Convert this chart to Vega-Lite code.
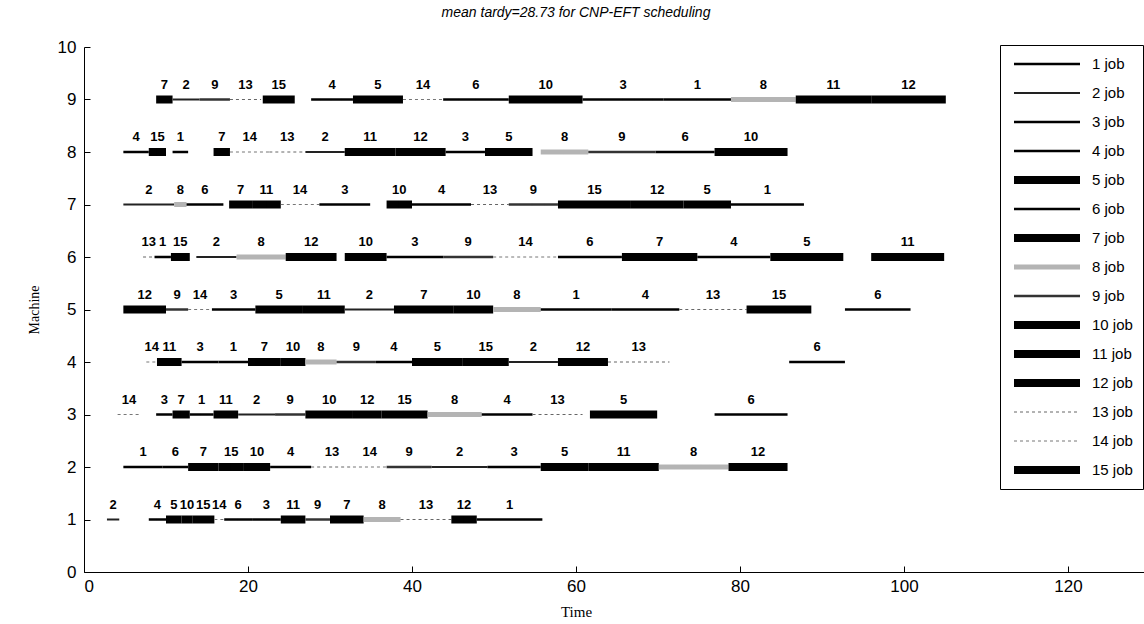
{
  "$schema": "https://vega.github.io/schema/vega-lite/v6.json",
  "width": 1060,
  "height": 525,
  "autosize": {"type": "none"},
  "padding": {"left": 84, "top": 47, "right": 0, "bottom": 52},
  "background": "white",
  "title": {"text": "mean tardy=28.73 for CNP-EFT scheduling", "font": "Liberation Sans", "fontSize": 14, "fontStyle": "italic", "fontWeight": "normal", "anchor": "middle", "dx": -38, "offset": 18, "color": "black"},
  "config": {"view": {"stroke": null}},
  "data": {"values": [
    {"machine": 1, "job": 2, "start": 2.8, "end": 4.3},
    {"machine": 1, "job": 4, "start": 7.9, "end": 10.0},
    {"machine": 1, "job": 5, "start": 10.0, "end": 11.9},
    {"machine": 1, "job": 10, "start": 11.9, "end": 13.2},
    {"machine": 1, "job": 15, "start": 13.2, "end": 15.9},
    {"machine": 1, "job": 14, "start": 15.9, "end": 17.1},
    {"machine": 1, "job": 6, "start": 17.1, "end": 20.5},
    {"machine": 1, "job": 3, "start": 20.5, "end": 24.0},
    {"machine": 1, "job": 11, "start": 24.0, "end": 27.0},
    {"machine": 1, "job": 9, "start": 27.0, "end": 30.0},
    {"machine": 1, "job": 7, "start": 30.0, "end": 34.1},
    {"machine": 1, "job": 8, "start": 34.1, "end": 38.6},
    {"machine": 1, "job": 13, "start": 38.6, "end": 44.8},
    {"machine": 1, "job": 12, "start": 44.8, "end": 47.9},
    {"machine": 1, "job": 1, "start": 47.9, "end": 55.9},
    {"machine": 2, "job": 1, "start": 4.8, "end": 9.6},
    {"machine": 2, "job": 6, "start": 9.6, "end": 12.7},
    {"machine": 2, "job": 7, "start": 12.7, "end": 16.4},
    {"machine": 2, "job": 15, "start": 16.4, "end": 19.5},
    {"machine": 2, "job": 10, "start": 19.5, "end": 22.7},
    {"machine": 2, "job": 4, "start": 22.7, "end": 27.7},
    {"machine": 2, "job": 13, "start": 27.7, "end": 32.8},
    {"machine": 2, "job": 14, "start": 32.8, "end": 36.9},
    {"machine": 2, "job": 9, "start": 36.9, "end": 42.4},
    {"machine": 2, "job": 2, "start": 42.4, "end": 49.2},
    {"machine": 2, "job": 3, "start": 49.2, "end": 55.7},
    {"machine": 2, "job": 5, "start": 55.7, "end": 61.5},
    {"machine": 2, "job": 11, "start": 61.5, "end": 70.1},
    {"machine": 2, "job": 8, "start": 70.1, "end": 78.6},
    {"machine": 2, "job": 12, "start": 78.6, "end": 85.8},
    {"machine": 3, "job": 14, "start": 4.1, "end": 6.9},
    {"machine": 3, "job": 3, "start": 8.8, "end": 10.8},
    {"machine": 3, "job": 7, "start": 10.8, "end": 12.9},
    {"machine": 3, "job": 1, "start": 12.9, "end": 15.8},
    {"machine": 3, "job": 11, "start": 15.8, "end": 18.8},
    {"machine": 3, "job": 2, "start": 18.8, "end": 23.3},
    {"machine": 3, "job": 9, "start": 23.3, "end": 27.0},
    {"machine": 3, "job": 10, "start": 27.0, "end": 32.8},
    {"machine": 3, "job": 12, "start": 32.8, "end": 36.3},
    {"machine": 3, "job": 15, "start": 36.3, "end": 41.9},
    {"machine": 3, "job": 8, "start": 41.9, "end": 48.5},
    {"machine": 3, "job": 4, "start": 48.5, "end": 54.7},
    {"machine": 3, "job": 13, "start": 54.7, "end": 60.8},
    {"machine": 3, "job": 5, "start": 61.7, "end": 69.9},
    {"machine": 3, "job": 6, "start": 76.9, "end": 85.8},
    {"machine": 4, "job": 14, "start": 7.6, "end": 8.9},
    {"machine": 4, "job": 11, "start": 8.9, "end": 11.9},
    {"machine": 4, "job": 3, "start": 11.9, "end": 16.4},
    {"machine": 4, "job": 1, "start": 16.4, "end": 20.0},
    {"machine": 4, "job": 7, "start": 20.0, "end": 24.0},
    {"machine": 4, "job": 10, "start": 24.0, "end": 27.0},
    {"machine": 4, "job": 8, "start": 27.0, "end": 30.8},
    {"machine": 4, "job": 9, "start": 30.8, "end": 35.6},
    {"machine": 4, "job": 4, "start": 35.6, "end": 40.0},
    {"machine": 4, "job": 5, "start": 40.0, "end": 46.2},
    {"machine": 4, "job": 15, "start": 46.2, "end": 51.8},
    {"machine": 4, "job": 2, "start": 51.8, "end": 57.8},
    {"machine": 4, "job": 12, "start": 57.8, "end": 63.9},
    {"machine": 4, "job": 13, "start": 63.9, "end": 71.4},
    {"machine": 4, "job": 6, "start": 86.0, "end": 92.8},
    {"machine": 5, "job": 12, "start": 4.8, "end": 10.0},
    {"machine": 5, "job": 9, "start": 10.0, "end": 12.7},
    {"machine": 5, "job": 14, "start": 12.7, "end": 15.6},
    {"machine": 5, "job": 3, "start": 15.6, "end": 20.9},
    {"machine": 5, "job": 5, "start": 20.9, "end": 26.7},
    {"machine": 5, "job": 11, "start": 26.7, "end": 31.8},
    {"machine": 5, "job": 2, "start": 31.8, "end": 37.8},
    {"machine": 5, "job": 7, "start": 37.8, "end": 45.1},
    {"machine": 5, "job": 10, "start": 45.1, "end": 49.9},
    {"machine": 5, "job": 8, "start": 49.9, "end": 55.7},
    {"machine": 5, "job": 1, "start": 55.7, "end": 64.3},
    {"machine": 5, "job": 4, "start": 64.3, "end": 72.6},
    {"machine": 5, "job": 13, "start": 72.6, "end": 80.8},
    {"machine": 5, "job": 15, "start": 80.8, "end": 88.7},
    {"machine": 5, "job": 6, "start": 92.8, "end": 100.8},
    {"machine": 6, "job": 13, "start": 7.2, "end": 8.6},
    {"machine": 6, "job": 1, "start": 8.6, "end": 10.6},
    {"machine": 6, "job": 15, "start": 10.6, "end": 12.9},
    {"machine": 6, "job": 2, "start": 13.7, "end": 18.6},
    {"machine": 6, "job": 8, "start": 18.6, "end": 24.6},
    {"machine": 6, "job": 12, "start": 24.6, "end": 30.8},
    {"machine": 6, "job": 10, "start": 31.8, "end": 36.9},
    {"machine": 6, "job": 3, "start": 36.9, "end": 43.8},
    {"machine": 6, "job": 9, "start": 43.8, "end": 49.9},
    {"machine": 6, "job": 14, "start": 49.9, "end": 57.8},
    {"machine": 6, "job": 6, "start": 57.8, "end": 65.6},
    {"machine": 6, "job": 7, "start": 65.6, "end": 74.8},
    {"machine": 6, "job": 4, "start": 74.8, "end": 83.7},
    {"machine": 6, "job": 5, "start": 83.7, "end": 92.6},
    {"machine": 6, "job": 11, "start": 96.0, "end": 104.9},
    {"machine": 7, "job": 2, "start": 4.8, "end": 11.0},
    {"machine": 7, "job": 8, "start": 11.0, "end": 12.5},
    {"machine": 7, "job": 6, "start": 12.5, "end": 17.0},
    {"machine": 7, "job": 7, "start": 17.7, "end": 20.5},
    {"machine": 7, "job": 11, "start": 20.5, "end": 24.0},
    {"machine": 7, "job": 14, "start": 24.0, "end": 28.7},
    {"machine": 7, "job": 3, "start": 28.7, "end": 34.9},
    {"machine": 7, "job": 10, "start": 36.9, "end": 40.0},
    {"machine": 7, "job": 4, "start": 40.0, "end": 47.2},
    {"machine": 7, "job": 13, "start": 47.2, "end": 51.8},
    {"machine": 7, "job": 9, "start": 51.8, "end": 57.8},
    {"machine": 7, "job": 15, "start": 57.8, "end": 66.7},
    {"machine": 7, "job": 12, "start": 66.7, "end": 73.1},
    {"machine": 7, "job": 5, "start": 73.1, "end": 78.9},
    {"machine": 7, "job": 1, "start": 78.9, "end": 87.8},
    {"machine": 8, "job": 4, "start": 4.8, "end": 7.9},
    {"machine": 8, "job": 15, "start": 7.9, "end": 10.0},
    {"machine": 8, "job": 1, "start": 10.8, "end": 12.7},
    {"machine": 8, "job": 7, "start": 15.8, "end": 17.8},
    {"machine": 8, "job": 14, "start": 17.8, "end": 22.6},
    {"machine": 8, "job": 13, "start": 22.6, "end": 27.0},
    {"machine": 8, "job": 2, "start": 27.0, "end": 31.8},
    {"machine": 8, "job": 11, "start": 31.8, "end": 38.0},
    {"machine": 8, "job": 12, "start": 38.0, "end": 44.1},
    {"machine": 8, "job": 3, "start": 44.1, "end": 48.9},
    {"machine": 8, "job": 5, "start": 48.9, "end": 54.7},
    {"machine": 8, "job": 8, "start": 55.7, "end": 61.5},
    {"machine": 8, "job": 9, "start": 61.5, "end": 69.7},
    {"machine": 8, "job": 6, "start": 69.7, "end": 76.9},
    {"machine": 8, "job": 10, "start": 76.9, "end": 85.8},
    {"machine": 9, "job": 7, "start": 8.8, "end": 10.8},
    {"machine": 9, "job": 2, "start": 10.8, "end": 14.1},
    {"machine": 9, "job": 9, "start": 14.1, "end": 17.8},
    {"machine": 9, "job": 13, "start": 17.8, "end": 21.6},
    {"machine": 9, "job": 15, "start": 21.8, "end": 25.7},
    {"machine": 9, "job": 4, "start": 27.7, "end": 32.8},
    {"machine": 9, "job": 5, "start": 32.8, "end": 38.9},
    {"machine": 9, "job": 14, "start": 38.9, "end": 43.8},
    {"machine": 9, "job": 6, "start": 43.8, "end": 51.8},
    {"machine": 9, "job": 10, "start": 51.8, "end": 60.8},
    {"machine": 9, "job": 3, "start": 60.8, "end": 70.7},
    {"machine": 9, "job": 1, "start": 70.7, "end": 78.9},
    {"machine": 9, "job": 8, "start": 78.9, "end": 86.8},
    {"machine": 9, "job": 11, "start": 86.8, "end": 96.0},
    {"machine": 9, "job": 12, "start": 96.0, "end": 105.1}
  ]},
  "layer": [
    {
      "mark": {"type": "rule", "strokeCap": "butt"},
      "encoding": {
        "x": {"field": "start", "type": "quantitative",
          "scale": {"domain": [0, 129.27], "nice": false, "zero": false},
          "axis": {"values": [0, 20, 40, 60, 80, 100, 120], "title": "Time", "titleFont": "Liberation Serif", "titleFontSize": 15, "titleFontWeight": "normal", "titleColor": "black", "titleX": 492, "titlePadding": 10,
            "labelFont": "Liberation Sans", "labelFontSize": 17, "labelColor": "black", "labelPadding": 12, "tickSize": -6, "tickColor": "black", "domainColor": "black", "grid": false}},
        "x2": {"field": "end"},
        "y": {"field": "machine", "type": "quantitative",
          "scale": {"domain": [0, 10], "nice": false, "zero": false},
          "axis": {"values": [0, 1, 2, 3, 4, 5, 6, 7, 8, 9, 10], "title": "Machine", "titleFont": "Liberation Serif", "titleFontSize": 14, "titleFontWeight": "normal", "titleColor": "black", "titlePadding": 16,
            "labelFont": "Liberation Sans", "labelFontSize": 17, "labelColor": "black", "labelPadding": 14, "tickSize": -6, "tickColor": "black", "domainColor": "black", "grid": false}},
        "color": {"field": "job", "type": "ordinal",
          "scale": {"type": "ordinal", "domain": [1,2,3,4,5,6,7,8,9,10,11,12,13,14,15],
            "range": ["#000000","#222222","#000000","#000000","#000000","#000000","#000000","#b4b4b4","#333333","#000000","#000000","#000000","#666666","#777777","#000000"]},
          "legend": {"title": null, "orient": "none", "legendX": 916, "legendY": -2, "padding": 10, "strokeColor": "black", "fillColor": "white",
            "symbolType": "stroke", "symbolSize": 4356, "clipHeight": 18, "labelExpr": "datum.label + ' job'", "labelFont": "Liberation Sans", "labelFontSize": 15, "labelColor": "black", "rowPadding": 11, "labelOffset": 8}},
        "strokeWidth": {"field": "job", "type": "ordinal",
          "scale": {"type": "ordinal", "domain": [1,2,3,4,5,6,7,8,9,10,11,12,13,14,15],
            "range": [2.5, 2, 2.5, 2.5, 8, 2.5, 8, 5, 2.5, 8, 8, 8, 1, 1, 8]},
          "legend": {"title": null}},
        "strokeDash": {"field": "job", "type": "ordinal",
          "scale": {"type": "ordinal", "domain": [1,2,3,4,5,6,7,8,9,10,11,12,13,14,15],
            "range": [[1,0],[1,0],[1,0],[1,0],[1,0],[1,0],[1,0],[1,0],[1,0],[1,0],[1,0],[1,0],[3,3],[3,3],[1,0]]},
          "legend": {"title": null}}
      }
    },
    {
      "transform": [{"fold": ["start", "end"], "as": ["edge", "t"]}],
      "mark": {"type": "text", "font": "Liberation Sans", "fontWeight": "bold", "fontSize": 13, "dy": -15, "color": "black"},
      "encoding": {
        "x": {"field": "t", "type": "quantitative", "aggregate": "mean"},
        "y": {"field": "machine", "type": "quantitative"},
        "text": {"field": "job", "type": "nominal"}
      }
    }
  ]
}
